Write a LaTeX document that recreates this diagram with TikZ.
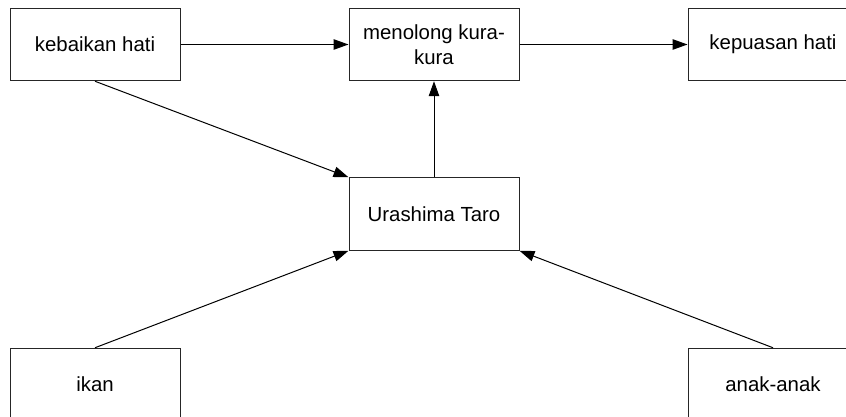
\documentclass[tikz,border=0pt]{standalone}
\usepackage{fontspec}
\setmainfont{Liberation Sans}
\usetikzlibrary{arrows.meta}
\begin{document}
\begin{tikzpicture}[x=1pt,y=-1pt,
  box/.style={draw=black!85, line width=1pt, fill=white, minimum width=170pt,
    minimum height=72.5pt, inner sep=0pt, align=center,
    font=\fontsize{20.4}{25}\selectfont},
  link/.style={draw=black, line width=1pt,
    -{Triangle[length=15pt,width=10.5pt]}}]
  \clip (0,0) rectangle (846,417);
  \useasboundingbox (0,0) rectangle (846,417);
  \fill[white] (0,0) rectangle (846,417);

  \node[box] (kebaikan) at (95,44.5) {kebaikan hati};
  \node[box] (menolong) at (434,44.5) {menolong kura-\\kura};
  \node[box] (kepuasan) at (773,44.5) {kepuasan hati};
  \node[box] (taro) at (434,214) {Urashima Taro};
  \node[box] (ikan) at (95,384.5) {ikan};
  \node[box] (anak) at (773,384.5) {anak-anak};

  \draw[link] (kebaikan) -- (menolong);
  \draw[link] (menolong) -- (kepuasan);
  \draw[link] (taro.north) -- (menolong.south);
  \draw[link] (kebaikan.south) -- (taro.north west);
  \draw[link] (ikan.north) -- (taro.south west);
  \draw[link] (anak.north) -- (taro.south east);
\end{tikzpicture}
\end{document}
